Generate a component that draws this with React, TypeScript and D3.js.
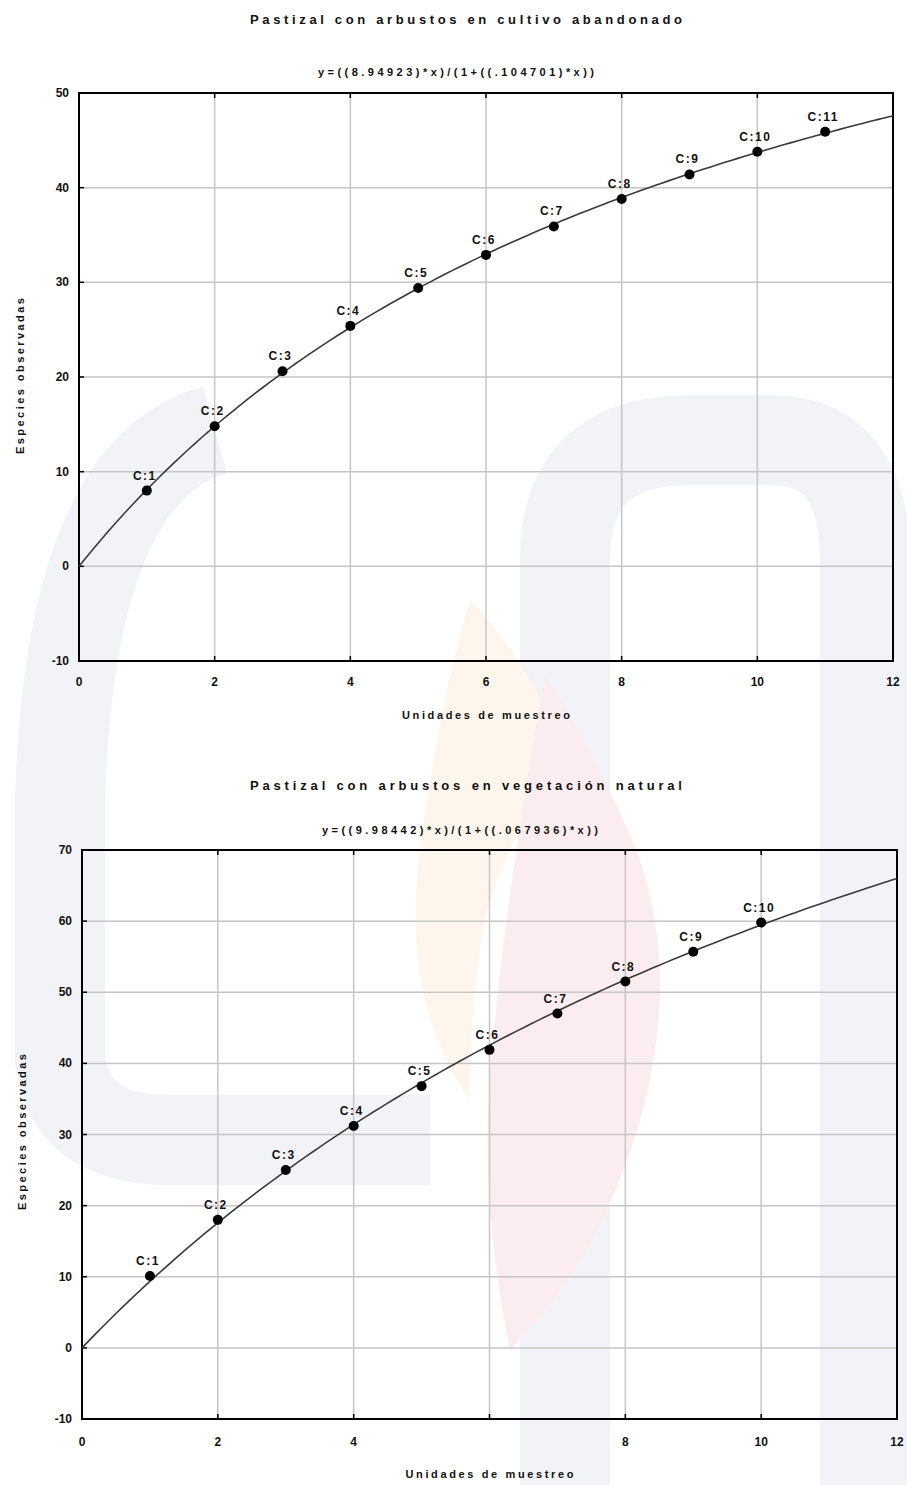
import React from 'react';
import * as d3 from 'd3';

// top panel: cultivo abandonado
const topTitle = 'Pastizal con arbustos en cultivo abandonado';
const topEquation = 'y=((8.94923)*x)/(1+((.104701)*x))';
const topFit = [8.94923, 0.104701];
const topX = [1, 2, 3, 4, 5, 6, 7, 8, 9, 10, 11];
const topY = [8.0, 14.8, 20.6, 25.4, 29.4, 32.9, 35.9, 38.8, 41.4, 43.8, 45.9];
const topLabels = ['C:1', 'C:2', 'C:3', 'C:4', 'C:5', 'C:6', 'C:7', 'C:8', 'C:9', 'C:10', 'C:11'];
const topYTicks = [-10, 0, 10, 20, 30, 40, 50];
const topXTickLabels = ['0', '2', '4', '6', '8', '10', '12'];

// bottom panel: vegetación natural
const botTitle = 'Pastizal con arbustos en vegetación natural';
const botEquation = 'y=((9.98442)*x)/(1+((.067936)*x))';
const botFit = [9.98442, 0.067936];
const botX = [1, 2, 3, 4, 5, 6, 7, 8, 9, 10];
const botY = [10.1, 18.0, 25.0, 31.2, 36.8, 41.9, 47.0, 51.5, 55.7, 59.8];
const botLabels = ['C:1', 'C:2', 'C:3', 'C:4', 'C:5', 'C:6', 'C:7', 'C:8', 'C:9', 'C:10'];
const botYTicks = [-10, 0, 10, 20, 30, 40, 50, 60, 70];
const botXTickLabels = ['0', '2', '4', '', '8', '10', '12'];

const xTicks = [0, 2, 4, 6, 8, 10, 12];
const xTitle = 'Unidades de muestreo';
const yTitle = 'Especies observadas';
const font = '"Liberation Sans", Arial, sans-serif';

function Panel(props: any) {
  const { box, title, equation, fit, xs, ys, labels, yTicks, xTickLabels } = props;
  const x = d3.scaleLinear().domain([0, 12]).range([box.left, box.right]);
  const y = d3.scaleLinear().domain([yTicks[0], yTicks[yTicks.length - 1]]).range([box.bottom, box.top]);
  // fitted curve from the printed equation
  const samples = d3.range(0, 12.01, 0.1);
  const line = d3.line<number>()
    .x(d => x(d))
    .y(d => y((fit[0] * d) / (1 + fit[1] * d)))
    .curve(d3.curveMonotoneX);
  const yMid = (box.top + box.bottom) / 2;
  return (
    <g fontFamily={font} fill="#111" fontWeight="bold">
      <text x={box.titleX} y={box.titleY} textAnchor="middle" fontSize={13}
        textLength={432} lengthAdjust="spacing">{title}</text>
      <text x={box.eqX} y={box.eqY} textAnchor="middle" fontSize={11}
        textLength={276} lengthAdjust="spacing">{equation}</text>
      {/* grid */}
      {xTicks.map(t => (
        <line key={'gx' + t} x1={x(t)} x2={x(t)} y1={box.top} y2={box.bottom} stroke="#c6c6c6" strokeWidth={1.5} />
      ))}
      {yTicks.map(t => (
        <line key={'gy' + t} x1={box.left} x2={box.right} y1={y(t)} y2={y(t)} stroke="#c6c6c6" strokeWidth={1.5} />
      ))}
      {/* inner ticks */}
      {xTicks.map(t => (
        <g key={'tx' + t}>
          <line x1={x(t)} x2={x(t)} y1={box.bottom} y2={box.bottom - 5} stroke="#000" strokeWidth={1.5} />
          <line x1={x(t)} x2={x(t)} y1={box.top} y2={box.top + 5} stroke="#000" strokeWidth={1.5} />
        </g>
      ))}
      {yTicks.map(t => (
        <line key={'ty' + t} x1={box.left} x2={box.left + 5} y1={y(t)} y2={y(t)} stroke="#000" strokeWidth={1.5} />
      ))}
      <rect x={box.left} y={box.top} width={box.right - box.left} height={box.bottom - box.top}
        fill="none" stroke="#000" strokeWidth={2} />
      {/* tick labels */}
      {xTicks.map((t, i) => (
        <text key={'lx' + t} x={x(t)} y={box.tickY} textAnchor="middle" fontSize={12}>{xTickLabels[i]}</text>
      ))}
      {yTicks.map(t => (
        <text key={'ly' + t} x={box.left - 10} y={y(t) + 4} textAnchor="end" fontSize={12}>{t}</text>
      ))}
      <text x={(box.left + box.right) / 2} y={box.xLabelY} textAnchor="middle" fontSize={11}
        textLength={168} lengthAdjust="spacing">{xTitle}</text>
      <text transform={`translate(${box.yLabelX},${box.yLabelY ?? yMid}) rotate(-90)`} textAnchor="middle" fontSize={11}
        textLength={156} lengthAdjust="spacing">{yTitle}</text>
      {/* fit */}
      <path d={line(samples) || ''} fill="none" stroke="#3a3a3a" strokeWidth={1.6} />
      {/* observed */}
      {xs.map((v: number, i: number) => (
        <g key={'p' + i}>
          <circle cx={x(v)} cy={y(ys[i])} r={5} fill="#000" />
          <text x={x(v) - 2} y={y(ys[i]) - 11} textAnchor="middle" fontSize={12} letterSpacing={1.5}>{labels[i]}</text>
        </g>
      ))}
    </g>
  );
}

function Watermark() {
  return (
    <g>
      <path d="M 215 430 Q 70 470 60 800 L 60 1060 Q 70 1140 170 1140 L 430 1140"
        fill="none" stroke="#f2f3f6" strokeWidth={90} />
      <path d="M 565 1485 L 565 560 Q 565 440 690 440 L 770 440 Q 865 440 865 560 L 865 1485"
        fill="none" stroke="#f2f3f6" strokeWidth={90} />
      <path d="M 470 600 Q 520 650 560 740 Q 520 820 490 900 Q 470 980 470 1100 Q 400 1000 420 850 Q 440 700 470 600 Z"
        fill="#fef6ec" />
      <path d="M 545 675 Q 600 760 640 860 Q 680 980 640 1120 Q 600 1260 510 1350 Q 480 1200 490 1080 Q 500 930 545 675 Z"
        fill="#fbedef" />
    </g>
  );
}

export default function App() {
  const topBox = {
    left: 79, right: 893, top: 93, bottom: 661,
    titleX: 466, titleY: 24, eqX: 456, eqY: 76, tickY: 686, xLabelY: 719, yLabelX: 24, yLabelY: 376,
  };
  const botBox = {
    left: 82, right: 897, top: 850, bottom: 1419,
    titleX: 466, titleY: 790, eqX: 460, eqY: 834, tickY: 1446, xLabelY: 1478, yLabelX: 26, yLabelY: 1132,
  };
  return (
    <svg width={907} height={1485} style={{ position: 'absolute', left: 0, top: 0, background: '#fff' }}>
      <rect width={907} height={1485} fill="#fff" />
      <Watermark />
      <Panel box={topBox} title={topTitle} equation={topEquation} fit={topFit} xs={topX} ys={topY}
        labels={topLabels} yTicks={topYTicks} xTickLabels={topXTickLabels} />
      <Panel box={botBox} title={botTitle} equation={botEquation} fit={botFit} xs={botX} ys={botY}
        labels={botLabels} yTicks={botYTicks} xTickLabels={botXTickLabels} />
    </svg>
  );
}
